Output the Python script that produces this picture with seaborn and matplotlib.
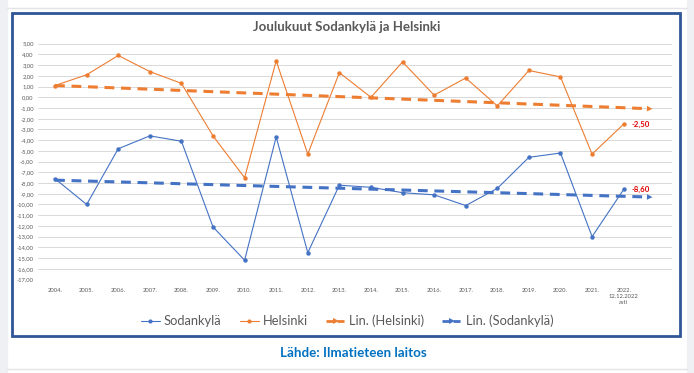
import numpy as np
import pandas as pd
import matplotlib
matplotlib.use("Agg")
import matplotlib.pyplot as plt
from matplotlib.patches import Rectangle
from matplotlib.lines import Line2D
import seaborn as sns

years = ["2004.", "2005.", "2006.", "2007.", "2008.", "2009.", "2010.", "2011.", "2012.", "2013.",
         "2014.", "2015.", "2016.", "2017.", "2018.", "2019.", "2020.", "2021.", "2022.\n12.12.2022\nasti"]
helsinki = [1.1, 2.1, 3.9, 2.4, 1.3, -3.6, -7.5, 3.4, -5.3, 2.3,
            0.0, 3.3, 0.2, 1.8, -0.8, 2.5, 1.9, -5.3, -2.5]
sodankyla = [-7.6, -10.0, -4.8, -3.6, -4.1, -12.1, -15.2, -3.7, -14.5, -8.2,
             -8.4, -8.9, -9.1, -10.1, -8.5, -5.6, -5.2, -13.0, -8.6]

BLUE = "#4472C4"
ORANGE = "#ED7D31"
RED = "#E00000"
GRAY = "#595959"

sns.set_theme(style="white")
plt.rcParams['font.family'] = ['Lato', 'DejaVu Sans']

W, H = 694, 373
fig = plt.figure(figsize=(W / 100, H / 100), dpi=100, facecolor="white")

# page background pieces
fig.patches.append(Rectangle((0, 0), 7 / W, 1, transform=fig.transFigure, color="#EEF0F4", zorder=0))
fig.patches.append(Rectangle((687 / W, 0), 7 / W, 1, transform=fig.transFigure, color="#EEF0F4", zorder=0))
fig.lines.append(Line2D([7 / W, 687 / W], [1 - 8 / H, 1 - 8 / H], transform=fig.transFigure, color="#E2E4E8", lw=1))
fig.lines.append(Line2D([7 / W, 687 / W], [1 - 369 / H, 1 - 369 / H], transform=fig.transFigure, color="#E2E4E8", lw=1))
# chart border
fig.patches.append(Rectangle((12 / W, 1 - 336 / H), (680 - 12) / W, (336 - 13) / H,
                             transform=fig.transFigure, fill=False, edgecolor="#2F5597", lw=2, zorder=1))

ax = fig.add_axes([38 / W, 1 - 279.5 / H, (672 - 38) / W, (279.5 - 43.7) / H])
ax.set_facecolor("none")

x = np.arange(len(years))
df = pd.DataFrame({
    "x": np.concatenate([x, x]),
    "val": helsinki + sodankyla,
    "series": ["Helsinki"] * len(x) + ["Sodankylä"] * len(x),
})
sns.lineplot(data=df[df.series == "Sodankylä"], x="x", y="val", color=BLUE, lw=0.8,
             marker="o", markersize=3.2, markeredgewidth=0, ax=ax, zorder=3)
sns.lineplot(data=df[df.series == "Helsinki"], x="x", y="val", color=ORANGE, lw=0.8,
             marker="o", markersize=3.2, markeredgewidth=0, ax=ax, zorder=3)

# linear trend lines, forecast one period forward
xt = np.arange(len(years) + 1)
for vals, col in [(helsinki, ORANGE), (sodankyla, BLUE)]:
    k, b = np.polyfit(x, vals, 1)
    yt = k * xt + b
    xe = xt[-1] - 0.05
    ax.plot([xt[0], xe - 0.25], [yt[0], k * (xe - 0.25) + b], color=col, lw=2.2,
            dashes=(3.2, 2.2), zorder=2)
    ax.annotate("", xy=(xe + 0.05, k * (xe + 0.05) + b), xytext=(xe - 0.4, k * (xe - 0.4) + b),
                arrowprops=dict(arrowstyle="-|>", color=col, lw=0, mutation_scale=10), zorder=2)

# data labels for last values
for vals in [helsinki, sodankyla]:
    ax.annotate(f"{vals[-1]:.2f}".replace(".", ","), (x[-1], vals[-1]), xytext=(6, 0),
                textcoords="offset points", va="center", ha="left", color=RED,
                fontsize=5.6, fontweight="bold")

ax.set_xlim(-0.54, 19.53)
ax.set_ylim(-17, 5)
yt_ticks = np.arange(-17, 6, 1)
ax.set_yticks(yt_ticks)
ax.set_yticklabels([f"{v:.2f}".replace(".", ",") for v in yt_ticks])
ax.set_xticks(x)
ax.set_xticklabels(years)
ax.tick_params(axis="y", labelsize=4.2, colors=GRAY, length=0, pad=3)
ax.tick_params(axis="x", labelsize=4.2, colors=GRAY, length=0, pad=6)
for t in ax.get_xticklabels():
    t.set_linespacing(1.3)
    t.set_va("top")
ax.yaxis.grid(True, color="#D9D9D9", lw=0.7)
ax.xaxis.grid(False)
for s in ax.spines.values():
    s.set_visible(False)
ax.set_xlabel("")
ax.set_ylabel("")

fig.text(347 / W, 1 - 27 / H, "Joulukuut Sodankylä ja Helsinki", ha="center", va="center",
         fontsize=9.5, fontweight="bold", color=GRAY)
fig.text(353 / W, 1 - 353 / H, "Lähde: Ilmatieteen laitos", ha="center", va="center",
         fontsize=9.6, fontweight="bold", color="#0070C0")

handles = [
    Line2D([], [], color=BLUE, lw=0.8, marker="o", markersize=3, markeredgewidth=0),
    Line2D([], [], color=ORANGE, lw=0.8, marker="o", markersize=3, markeredgewidth=0),
    Line2D([], [], color=ORANGE, lw=2.0, dashes=(2.5, 1.5), marker=">", markersize=4.5, markeredgewidth=0),
    Line2D([], [], color=BLUE, lw=2.0, dashes=(2.5, 1.5), marker=">", markersize=4.5, markeredgewidth=0),
]
labels = ["Sodankylä", "Helsinki", "Lin. (Helsinki)", "Lin. (Sodankylä)"]
leg = fig.legend(handles, labels, loc="center", bbox_to_anchor=(347 / W, 1 - 321 / H), ncol=4,
                 frameon=False, fontsize=9.3, handlelength=1.5, handletextpad=0.3,
                 columnspacing=1.4, numpoints=1)
for t in leg.get_texts():
    t.set_color(GRAY)

fig.savefig("out.png", dpi=100, facecolor="white")
